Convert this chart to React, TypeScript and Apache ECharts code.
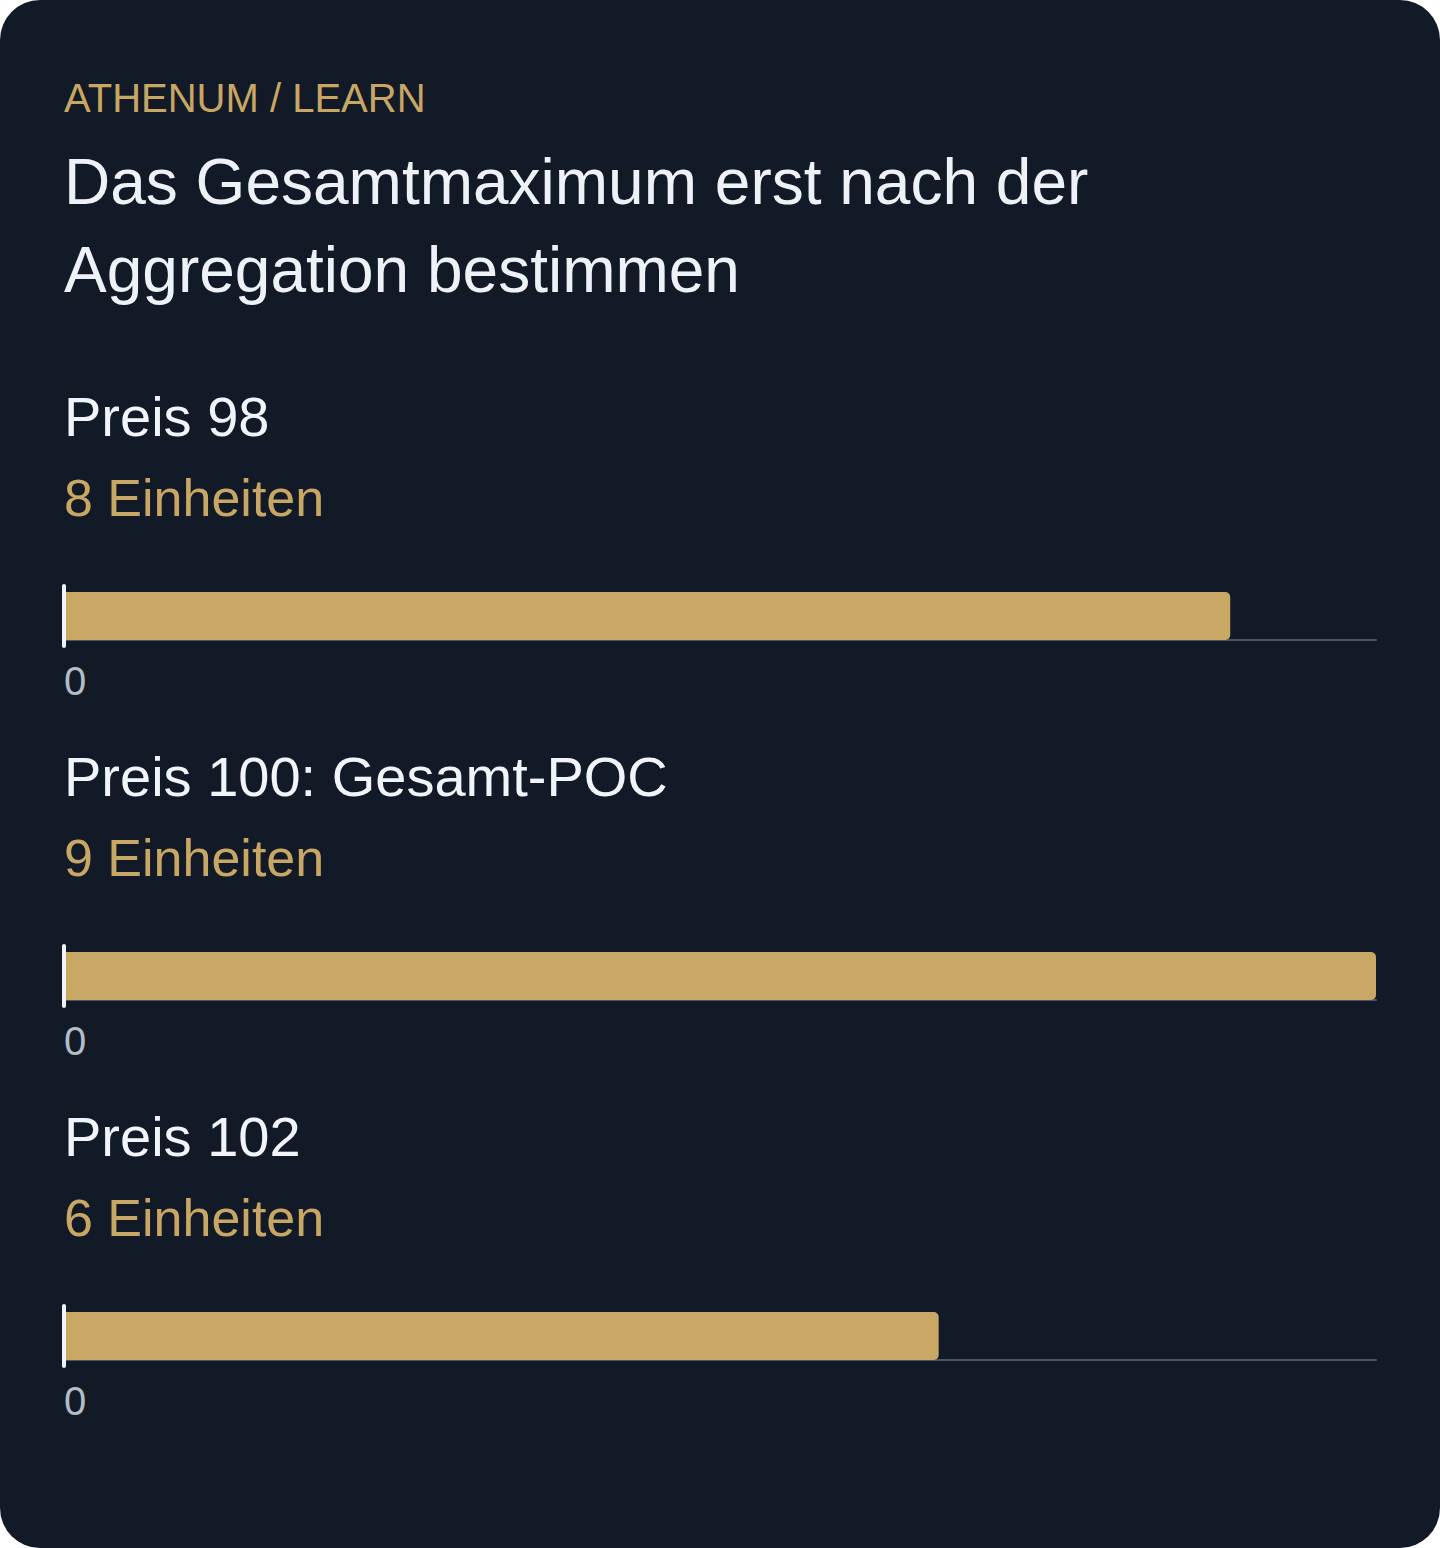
import React, { useEffect, useRef } from "react";
import * as echarts from "echarts";

const eyebrow = "ATHENUM / LEARN";
const titleLines = ["Das Gesamtmaximum erst nach der", "Aggregation bestimmen"];
const priceLabels = ["Preis 98", "Preis 100: Gesamt-POC", "Preis 102"];
const units = [8, 9, 6];
const unitSuffix = "Einheiten";

const FONT = "'Liberation Sans', Arial, sans-serif";
const GOLD = "#c8a664";
const ROW_STEP = 360;

const App: React.FC = () => {
  const chartRef = useRef<HTMLDivElement>(null);

  useEffect(() => {
    if (!chartRef.current) return;
    const chart = echarts.init(chartRef.current, undefined, { renderer: "svg" });
    const maxUnits = Math.max(...units);

    // one grid per price row, all sharing the same maximum
    const grids = priceLabels.map((_, i) => ({
      left: 64,
      width: 1312,
      top: 586 + ROW_STEP * i,
      height: 60,
      containLabel: false,
    }));

    const xAxes = priceLabels.map((_, i) => ({
      type: "value",
      gridIndex: i,
      min: 0,
      max: maxUnits,
      interval: maxUnits,
      offset: -6,
      splitLine: { show: false },
      axisTick: { show: false },
      axisLine: { show: true, lineStyle: { color: "#4b5563", width: 2 } },
      axisLabel: {
        color: "#b4bcc8",
        fontSize: 40,
        fontFamily: FONT,
        align: "left",
        margin: 21,
        formatter: (v: number) => (v === 0 ? "0" : ""),
      },
    }));

    const yAxes = priceLabels.map((label, i) => ({
      type: "category",
      gridIndex: i,
      data: [label],
      z: 5,
      axisTick: { show: false },
      axisLabel: { show: false },
      axisLine: { show: true, lineStyle: { color: "#f1f5f9", width: 4 } },
    }));

    const series = units.map((u, i) => ({
      type: "bar",
      xAxisIndex: i,
      yAxisIndex: i,
      data: [u],
      barWidth: 48,
      itemStyle: { color: "#c9a765", borderRadius: [0, 5, 5, 0] },
    }));

    const texts: any[] = [
      {
        type: "text",
        x: 64,
        y: 97.5,
        style: { text: eyebrow, font: `40px ${FONT}`, fill: GOLD, verticalAlign: "middle" },
      },
      {
        type: "text",
        x: 64,
        y: 137.5,
        style: {
          text: titleLines.join("\n"),
          font: `64px ${FONT}`,
          lineHeight: 88,
          fill: "#eef2f7",
          verticalAlign: "top",
        },
      },
    ];
    priceLabels.forEach((label, i) => {
      texts.push({
        type: "text",
        x: 64,
        y: 416.5 + ROW_STEP * i,
        style: { text: label, font: `56px ${FONT}`, fill: "#f1f5f9", verticalAlign: "middle" },
      });
      texts.push({
        type: "text",
        x: 64,
        y: 497.5 + ROW_STEP * i,
        style: {
          text: `${units[i]} ${unitSuffix}`,
          font: `52px ${FONT}`,
          fill: GOLD,
          verticalAlign: "middle",
        },
      });
    });

    chart.setOption({
      animation: false,
      backgroundColor: "transparent",
      grid: grids,
      xAxis: xAxes,
      yAxis: yAxes,
      series,
      graphic: texts,
    });

    return () => {
      chart.dispose();
    };
  }, []);

  return (
    <div
      style={{
        position: "absolute",
        left: 0,
        top: 0,
        width: 1440,
        height: 1548,
        borderRadius: 40,
        background: "#131a27",
        overflow: "hidden",
      }}
    >
      <div ref={chartRef} style={{ width: 1440, height: 1548 }} />
    </div>
  );
};

export default App;
